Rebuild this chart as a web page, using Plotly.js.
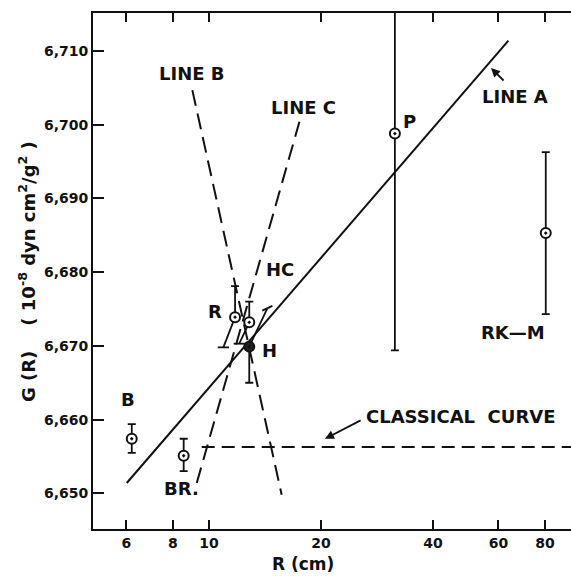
<!DOCTYPE html>
<html>
<head>
<meta charset="utf-8">
<script src="https://cdn.plot.ly/plotly-3.0.1.min.js"></script>
<style>html,body{margin:0;padding:0;background:#fff;}#chart{width:571px;height:577px;}</style>
</head>
<body>
<div id="chart"></div>
<script>
// ---- data ----
const pointNames = ['B', 'BR.', 'R', 'HC', 'H', 'P', 'RK\u2014M'];
const pointR = [6.2, 8.55, 11.75, 12.83, 12.83, 31.6, 80.4];
const pointG = [6.6574, 6.6551, 6.6739, 6.6732, 6.6699, 6.6988, 6.6853];
const errPlus = [0.0020, 0.0023, 0.0042, 0.0028, 0.0, 0.0300, 0.0110];
const errMinus = [0.0019, 0.0021, 0.0, 0.0, 0.0049, 0.0294, 0.0110];

// slanted error bars (R, HC lower; H upper): end points
const slantIdx = [2, 3, 4];
const slantEndR = [10.93, 12.06, 14.35];
const slantEndG = [6.6698, 6.6703, 6.6751];

const lineA_R = [6.01, 63.8];
const lineA_G = [6.6514, 6.7114];
const lineB_R = [9.02, 15.68];
const lineB_G = [6.7047, 6.6498];
const lineC_R = [9.27, 17.5];
const lineC_G = [6.6514, 6.7004];
const classical_R = [9.56, 120];
const classical_G = [6.6563, 6.6563];

const xTickVals = [6, 8, 10, 20, 40, 60, 80];
const xTickText = ['6', '8', '10', '20', '40', '60', '80'];
const yTickVals = [6.650, 6.660, 6.670, 6.680, 6.690, 6.700, 6.710];
const yTickText = ['6,650', '6,660', '6,670', '6,680', '6,690', '6,700', '6,710'];

// text labels (position in data units)
const labelText = ['LINE B', 'LINE C', 'LINE A', 'P', 'HC', 'R', 'H', 'B', 'BR.', 'RK\u2014M', 'CLASSICAL\u00A0 CURVE'];
const labelR = [9.00, 18.0, 66.5, 34.5, 15.52, 10.38, 14.5, 6.06, 8.46, 65.65, 47.3];
const labelG = [6.7069, 6.7024, 6.7038, 6.7004, 6.6803, 6.6746, 6.6694, 6.6627, 6.6507, 6.6718, 6.6604];

// arrows: head and tail
const arrowHeadR = [57.3, 20.5];
const arrowHeadG = [6.7077, 6.6574];
const arrowTailR = [62.5, 25.8];
const arrowTailG = [6.7058, 6.6600];

// ---- build ----
const FONT = 'DejaVu Sans, Liberation Sans, Arial, sans-serif';
const traces = [];
const solid = {color: '#111', width: 2};
traces.push({x: lineA_R, y: lineA_G, mode: 'lines', line: solid, hoverinfo: 'skip'});
const dashed = {color: '#111', width: 2, dash: '16px,8px'};
traces.push({x: lineB_R, y: lineB_G, mode: 'lines', line: dashed, hoverinfo: 'skip'});
traces.push({x: lineC_R, y: lineC_G, mode: 'lines', line: dashed, hoverinfo: 'skip'});
traces.push({x: classical_R, y: classical_G, mode: 'lines', line: {color: '#111', width: 2, dash: '13px,7px'}, hoverinfo: 'skip'});

// slanted error bars
slantIdx.forEach((k, i) => {
  traces.push({x: [pointR[k], slantEndR[i]], y: [pointG[k], slantEndG[i]], mode: 'lines',
    line: {color: '#111', width: 1.8}, hoverinfo: 'skip'});
});
traces.push({x: slantEndR, y: slantEndG, mode: 'markers', hoverinfo: 'skip',
  marker: {symbol: 'line-ew', size: 8, angle: [0, 0, -25], line: {color: '#111', width: 1.8}}});

// points with vertical error bars
traces.push({
  x: pointR, y: pointG, mode: 'markers', text: pointNames, hoverinfo: 'text',
  error_y: {type: 'data', symmetric: false, array: errPlus, arrayminus: errMinus,
    color: '#111', thickness: 1.8, width: 4},
  marker: {symbol: 'circle-dot', size: 10,
    color: pointNames.map(n => n === 'H' ? '#222' : '#fff'),
    line: {color: '#111', width: 2}}
});

const annotations = labelText.map((t, i) => ({
  x: Math.log10(labelR[i]), y: labelG[i], xref: 'x', yref: 'y', text: t, showarrow: false,
  font: {family: FONT, size: 18, color: '#111', weight: 700}, xanchor: 'center', yanchor: 'middle'
}));
arrowHeadR.forEach((r, i) => {
  annotations.push({x: Math.log10(r), y: arrowHeadG[i], xref: 'x', yref: 'y',
    ax: Math.log10(arrowTailR[i]), ay: arrowTailG[i], axref: 'x', ayref: 'y',
    text: '', showarrow: true, arrowhead: 2, arrowsize: 1, arrowwidth: 1.8, arrowcolor: '#111', standoff: 0});
});
annotations.push({xref: 'paper', yref: 'paper', x: -0.138, y: 0.498, textangle: -90,
  text: 'G (R)\u00A0\u00A0\u00A0 ( 10<sup>-8</sup> dyn cm<sup>2</sup>/g<sup>2</sup> )', showarrow: false,
  font: {family: FONT, size: 18, color: '#111', weight: 700}, xanchor: 'center', yanchor: 'middle'});
annotations.push({xref: 'paper', yref: 'paper', x: 0.4393, y: -0.0895,
  text: 'R (cm)', showarrow: false, borderpad: 0,
  font: {family: FONT, size: 17, color: '#111', weight: 700}, xanchor: 'center', yanchor: 'bottom'});

const layout = {
  width: 571, height: 577,
  margin: {l: 93, r: 0, t: 13, b: 48},
  paper_bgcolor: '#fff', plot_bgcolor: '#fff',
  showlegend: false,
  xaxis: {type: 'log', range: [0.6882, 1.9731], tickvals: xTickVals, ticktext: xTickText,
    ticks: 'inside', ticklen: 9, tickwidth: 2, tickcolor: '#111',
    showline: true, linewidth: 2, linecolor: '#111', mirror: 'ticks',
    showgrid: false, zeroline: false,
    tickfont: {family: FONT, size: 14, color: '#111', weight: 700}},
  yaxis: {range: [6.64516, 6.71516], tickvals: yTickVals, ticktext: yTickText,
    ticks: 'inside', ticklen: 11, tickwidth: 2, tickcolor: '#111',
    showline: true, linewidth: 2, linecolor: '#111', mirror: false,
    showgrid: false, zeroline: false,
    tickfont: {family: FONT, size: 14, color: '#111', weight: 700}},
  annotations: annotations
};

Plotly.newPlot('chart', traces, layout, {staticPlot: true, displayModeBar: false});
</script>
</body>
</html>
